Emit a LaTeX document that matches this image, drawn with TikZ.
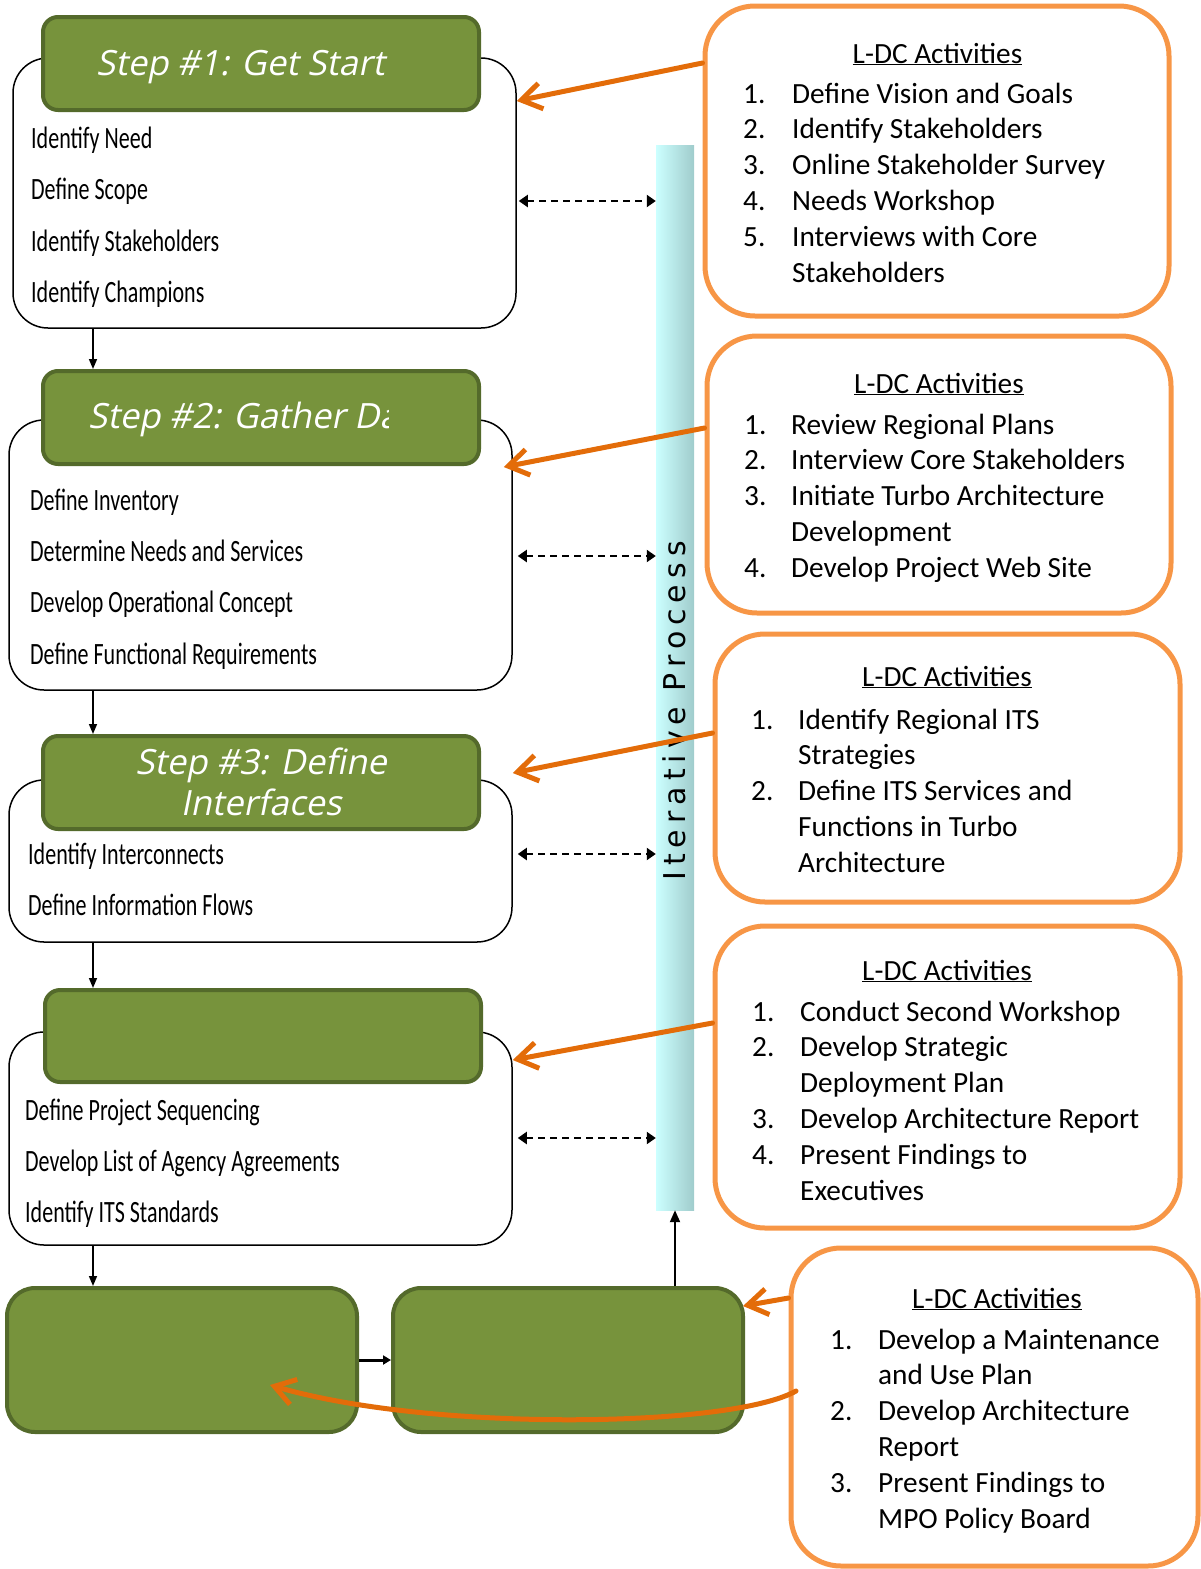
\documentclass[tikz,border=0pt]{standalone}
\usepackage{fontspec}
\setmainfont{Carlito}
\newfontfamily\condfont{Carlito}[FakeStretch=0.71]
\newfontfamily\stepfont{Open Sans}[FakeSlant=0.2]
\newfontfamily\iterfont{DejaVu Sans}[LetterSpace=20]
\usetikzlibrary{arrows.meta}
\definecolor{stepgreen}{HTML}{77933C}
\definecolor{stepborder}{HTML}{546A2B}
\definecolor{boxorange}{HTML}{F79646}
\definecolor{arroworange}{HTML}{E36C09}
\definecolor{barleft}{HTML}{CCFFFF}
\definecolor{barright}{HTML}{A0CCCC}
\begin{document}
\begin{tikzpicture}[x=1pt,y=-1pt,
  whitebox/.style={draw=black, line width=1.5pt, rounded corners=35pt, fill=white, minimum width=503pt, inner sep=0pt},
  greenbox/.style={draw=stepborder, fill=stepgreen, line width=4pt, rounded corners=15pt, minimum width=436pt, minimum height=93pt, inner sep=0pt},
  bottombox/.style={greenbox, minimum width=350pt, minimum height=144pt, rounded corners=28pt},
  obox/.style={draw=boxorange, fill=white, line width=5pt, rounded corners=50pt, inner sep=0pt},
  itemtext/.style={font=\condfont\fontsize{31}{36}\selectfont, anchor=base west, inner sep=0pt},
  stepttl/.style={font=\stepfont\fontsize{34.8}{41}\selectfont, text=white, inner sep=0pt},
  ldctitle/.style={font=\fontsize{29.3}{35.8}\selectfont, anchor=base, inner sep=0pt},
  ldclist/.style={font=\fontsize{29.3}{35.8}\selectfont, anchor=base west, inner sep=0pt},
  oarrow/.style={draw=arroworange, line width=5pt, line cap=round, -{Straight Barb[length=20pt,width=26pt]}},
  dasharrow/.style={draw=black, line width=2pt, dash pattern=on 7pt off 5pt, {Triangle[length=9pt,width=12pt]}-{Triangle[length=9pt,width=12pt]}},
  flowarrow/.style={draw=black, line width=1.5pt, -{Triangle[length=10pt,width=8pt]}}
]
\useasboundingbox (0,0) rectangle (1201,1569);
\clip (0,0) rectangle (1201,1569);

% white step boxes
\node[whitebox, minimum height=270pt] (w1) at (264.5,193) {};
\node[whitebox, minimum height=270pt] (w2) at (260.5,555) {};
\node[whitebox, minimum height=162pt] (w3) at (260.5,861) {};
\node[whitebox, minimum height=213pt] (w4) at (260.5,1138.5) {};

% green headers
\node[greenbox] (g1) at (261,63.5) {};
\node[greenbox] (g2) at (261,417.5) {};
\node[greenbox] (g3) at (261,782.5) {};
\node[greenbox, minimum height=92pt] (g4) at (263,1036) {};

% bottom green boxes
\node[bottombox] (ba) at (182,1360) {};
\node[bottombox] (bb) at (568,1360) {};

% iterative bar
\node[minimum width=38pt, minimum height=1065pt, inner sep=0pt, left color=barleft, right color=barright] (bar) at (675,677.5) {};
\node[rotate=90, anchor=base, inner sep=0pt, font=\iterfont\fontsize{30}{33}\selectfont] (iter) at (685,711) {Iterative Process};

% step titles
\node[stepttl, anchor=base west] (t1) at (96,75) {Step \#1: Get Start};
\begin{scope}
\clip (80,380) rectangle (388,455);
\node[stepttl, anchor=base west] (t2) at (88,428) {Step \#2: Gather Data};
\end{scope}
\node[stepttl, anchor=base] (t3a) at (261,774) {Step \#3: Define};
\node[stepttl, anchor=base] (t3b) at (261,815) {Interfaces};

% step items
\node[itemtext] (i11) at (31,148) {Identify Need};
\node[itemtext] (i12) at (31,199.5) {Define Scope};
\node[itemtext] (i13) at (31,251) {Identify Stakeholders};
\node[itemtext] (i14) at (31,302) {Identify Champions};

\node[itemtext] (i21) at (30,510) {Define Inventory};
\node[itemtext] (i22) at (30,561) {Determine Needs and Services};
\node[itemtext] (i23) at (30,612) {Develop Operational Concept};
\node[itemtext] (i24) at (30,664) {Define Functional Requirements};

\node[itemtext] (i31) at (28,864) {Identify Interconnects};
\node[itemtext] (i32) at (28,915) {Define Information Flows};

\node[itemtext] (i41) at (25,1120) {Define Project Sequencing};
\node[itemtext] (i42) at (25,1171) {Develop List of Agency Agreements};
\node[itemtext] (i43) at (25,1222) {Identify ITS Standards};

% orange activity boxes
\node[obox, minimum width=464pt, minimum height=310pt] (r1) at (937,161) {};
\node[ldctitle] (r1t) at (937.5,63) {\underline{L-DC Activities}};
\node[ldclist] (r1l) at (743,103) {\begin{tabular}[t]{@{}p{49pt}@{}l@{}}
1.&Define Vision and Goals\\
2.&Identify Stakeholders\\
3.&Online Stakeholder Survey\\
4.&Needs Workshop\\
5.&Interviews with Core\\
&Stakeholders
\end{tabular}};

\node[obox, minimum width=464pt, minimum height=277pt] (r2) at (939,474.5) {};
\node[ldctitle] (r2t) at (939,393) {\underline{L-DC Activities}};
\node[ldclist] (r2l) at (744,434) {\begin{tabular}[t]{@{}p{47pt}@{}l@{}}
1.&Review Regional Plans\\
2.&Interview Core Stakeholders\\
3.&Initiate Turbo Architecture\\
&Development\\
4.&Develop Project Web Site
\end{tabular}};

\node[obox, minimum width=465pt, minimum height=268pt] (r3) at (947.5,768) {};
\node[ldctitle] (r3t) at (947,686) {\underline{L-DC Activities}};
\node[ldclist] (r3l) at (751,729) {\begin{tabular}[t]{@{}p{47pt}@{}l@{}}
1.&Identify Regional ITS\\
&Strategies\\
2.&Define ITS Services and\\
&Functions in Turbo\\
&Architecture
\end{tabular}};

\node[obox, minimum width=465pt, minimum height=302pt] (r4) at (947.5,1077) {};
\node[ldctitle] (r4t) at (947,980) {\underline{L-DC Activities}};
\node[ldclist] (r4l) at (752,1021) {\begin{tabular}[t]{@{}p{48pt}@{}l@{}}
1.&Conduct Second Workshop\\
2.&Develop Strategic\\
&Deployment Plan\\
3.&Develop Architecture Report\\
4.&Present Findings to\\
&Executives
\end{tabular}};

\node[obox, minimum width=407pt, minimum height=318pt] (r5) at (994.5,1407) {};
\node[ldctitle] (r5t) at (997,1308) {\underline{L-DC Activities}};
\node[ldclist] (r5l) at (830,1349) {\begin{tabular}[t]{@{}p{48pt}@{}l@{}}
1.&Develop a Maintenance\\
&and Use Plan\\
2.&Develop Architecture\\
&Report\\
3.&Present Findings to\\
&MPO Policy Board
\end{tabular}};

% helper coordinates
\coordinate (cx) at (93,0);
\coordinate (d1) at (0,201);
\coordinate (d2) at (0,556);
\coordinate (d3) at (0,854);
\coordinate (d4) at (0,1138);
\coordinate (a1s) at (0,63);
\coordinate (a1t) at (0,101);
\coordinate (a2s) at (0,428);
\coordinate (a2t) at (0,467);
\coordinate (a3s) at (0,733);
\coordinate (a3t) at (0,773);
\coordinate (a4s) at (0,1023);
\coordinate (a4t) at (0,1060);
\coordinate (a5s) at (0,1298);
\coordinate (a5t) at (0,1306);
\coordinate (a6s) at (796,1391);
\coordinate (a6t) at (270,1385);

% flow arrows
\draw[flowarrow] (w1.south -| cx) -- (g2.north -| cx);
\draw[flowarrow] (w2.south -| cx) -- (g3.north -| cx);
\draw[flowarrow] (w3.south -| cx) -- (g4.north -| cx);
\draw[flowarrow] (w4.south -| cx) -- (ba.north -| cx);
\draw[draw=black, line width=3pt, -{Triangle[length=8pt,width=9pt]}] (ba.east) -- (bb.west);
\draw[draw=black, line width=2pt, -{Triangle[length=12pt,width=10pt]}] (bb.north -| bar.south) -- (bar.south);

% dashed iteration arrows
\draw[dasharrow] ([xshift=2pt]w1.east |- d1) -- (bar.west |- d1);
\draw[dasharrow] ([xshift=5pt]w2.east |- d2) -- (bar.west |- d2);
\draw[dasharrow] ([xshift=5pt]w3.east |- d3) -- (bar.west |- d3);
\draw[dasharrow] ([xshift=5pt]w4.east |- d4) -- (bar.west |- d4);

% orange arrows
\draw[oarrow] (r1.west |- a1s) -- (w1.east |- a1t);
\draw[oarrow] (r2.west |- a2s) -- ([xshift=-9pt]w2.east |- a2t);
\draw[oarrow] (r3.west |- a3s) -- (w3.east |- a3t);
\draw[oarrow] (r4.west |- a4s) -- (w4.east |- a4t);
\draw[oarrow] (r5.west |- a5s) -- ([xshift=-2pt]bb.east |- a5t);
\draw[oarrow] (a6s) .. controls (730,1428) and (430,1432) .. (a6t);
\end{tikzpicture}
\end{document}
